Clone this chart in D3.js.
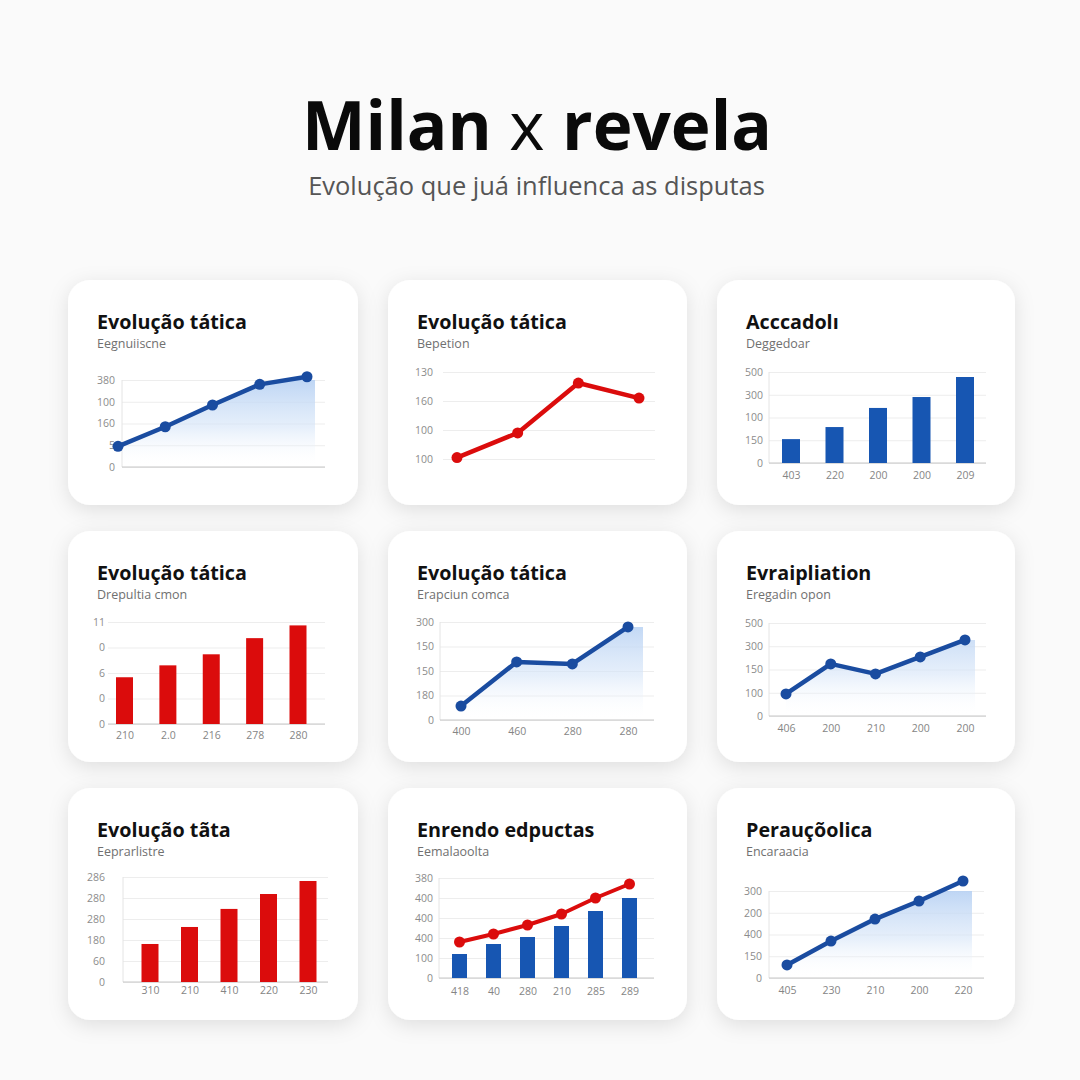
<!DOCTYPE html>
<html><head><meta charset="utf-8">
<script src="https://cdn.jsdelivr.net/npm/d3@7"></script>
<style>html,body{margin:0;padding:0;background:#fafafa;} svg{display:block;}</style>
</head><body><svg id="c" width="1080" height="1080"></svg>
<script>
// ---------- DATA ----------
const mainTitleParts = ["Milan ", "x", " revela"];
const mainSubtitle = "Evolução que juá influenca as disputas";
const cardTitles = ["Evolução tática","Evolução tática","Acccadolı","Evolução tática","Evolução tática","Evraipliation","Evolução tãta","Enrendo edpuctas","Perauçõolica"];
const cardSubtitles = ["Eegnuiiscne","Bepetion","Deggedoar","Drepultia cmon","Erapciun comca","Eregadin opon","Eeprarlistre","Eemalaoolta","Encaraacia"];
const chartKinds = ["area","line","bar","bar","area","area","bar","barline","area"];
const seriesColors = ["blue","red","blue","red","blue","blue","red","blue","blue"];

// y tick values and their printed labels (bottom to top)
const yTickValues = [
  [0,100,200,300,400],
  [0,100,200,300],
  [0,100,200,300,400],
  [0,3,6,9,12],
  [0,100,200,300,400],
  [0,100,200,300,400],
  [0,100,200,300,400,500],
  [0,100,200,300,400,500],
  [0,100,200,300,400]
];
const yTickLabels = [
  ["0","5","160","100","380"],
  ["100","100","160","130"],
  ["0","150","100","300","500"],
  ["0","0","6","0","11"],
  ["0","180","150","150","300"],
  ["0","100","150","300","500"],
  ["0","60","180","280","280","286"],
  ["0","100","400","400","400","380"],
  ["0","150","400","200","300"]
];
// x category labels (empty = not printed)
const xLabels = [
  ["","","","",""],
  ["","","",""],
  ["403","220","200","200","209"],
  ["210","2.0","216","278","280"],
  ["400","460","280","280"],
  ["406","200","210","200","200"],
  ["310","210","410","220","230"],
  ["418","40","280","210","285","289"],
  ["405","230","210","200","220"]
];
const card1Values = [95,185,285,380,415];
const card2Values = [5,90,262,210];
const card3Values = [105,158,242,290,378];
const card4Values = [5.5,6.9,8.2,10.1,11.6];
const card5Values = [57,237,229,380];
const card6Values = [95,224,181,254,327];
const card7Values = [181,262,348,419,481];
const card8Bars  = [120,170,205,260,335,400];
const card8Line  = [180,220,265,320,400,470];
const card9Values = [60,170,271,354,446];
const mainSeries = [card1Values,card2Values,card3Values,card4Values,card5Values,card6Values,card7Values,card8Bars,card9Values];
const secondSeries = [null,null,null,null,null,null,null,card8Line,null];

// ---------- LAYOUT / STYLE ----------
const COL = {blue:"#1a4ca0", blueBar:"#1756b2", red:"#db0c0c"};
const cardX = [68,388,717], cardW = [290,299,298];
const cardY = [280,531,788], cardH = [225,231,232];
const layout = [
  {x0:122,x1:325,yTop:380,yBot:467,p0:118,p1:307,lab:115,vAxis:true,base:true,areaR:315},
  {x0:443,x1:655,yTop:372,yBot:459,p0:457,p1:639,lab:433,vAxis:false,base:false},
  {x0:769,x1:986,yTop:372,yBot:463,p0:791,p1:965,lab:763,vAxis:true,base:true,barW:18,xLabY:479},
  {x0:108,x1:325,yTop:622,yBot:724,p0:124.5,p1:298,lab:105,vAxis:false,base:true,barW:17,xLabY:739},
  {x0:440,x1:654,yTop:622,yBot:720,p0:461,p1:628,lab:434,vAxis:true,base:true,areaR:643,xLabY:735},
  {x0:769,x1:986,yTop:623,yBot:716,p0:786,p1:965,lab:763,vAxis:true,base:true,areaR:975,xLabY:732},
  {x0:123,x1:328,yTop:877,yBot:982,p0:150,p1:308,lab:105,vAxis:true,base:true,barW:17,xLabY:994},
  {x0:439,x1:654,yTop:878,yBot:978,p0:459.5,p1:629.5,lab:433,vAxis:true,base:true,barW:15,xLabY:995},
  {x0:769,x1:984,yTop:891,yBot:978,p0:787,p1:963,lab:762,vAxis:true,base:true,areaR:972,xLabY:994}
];
const FONT = "'Open Sans','Noto Sans',sans-serif";

const svg = d3.select("#c");
svg.append("rect").attr("width",1080).attr("height",1080).attr("fill","#fafafa");
const defs = svg.append("defs");
const f = defs.append("filter").attr("id","sh").attr("x","-20%").attr("y","-20%").attr("width","140%").attr("height","150%");
f.append("feDropShadow").attr("dx",0).attr("dy",5).attr("stdDeviation",10).attr("flood-color","#000").attr("flood-opacity",0.11);

function fitWidth(sel, target){
  const w = sel.node().getComputedTextLength();
  const fs = parseFloat(sel.attr("font-size"));
  sel.attr("font-size", fs*target/w);
}

// main title
const t = svg.append("text").attr("x",537).attr("y",150).attr("text-anchor","middle")
  .attr("font-family",FONT).attr("font-size",80).attr("font-weight",700).attr("fill","#0a0a0a");
mainTitleParts.forEach((p,i)=>t.append("tspan").text(p).attr("font-weight", i===1?400:700));
fitWidth(t,470);
const st = svg.append("text").attr("x",536.5).attr("y",195).attr("text-anchor","middle")
  .attr("font-family",FONT).attr("font-size",26).attr("fill","#555").text(mainSubtitle);
fitWidth(st,457);

// measure card title size
let titleFS = 20;
{
  const tmp = svg.append("text").attr("font-family",FONT).attr("font-weight",700).attr("font-size",20).text(cardTitles[0]);
  titleFS = 20*150/tmp.node().getComputedTextLength();
  tmp.remove();
}

cardTitles.forEach((title, i) => {
  const r = Math.floor(i/3), c = i%3;
  const cx = cardX[c], cy = cardY[r];
  const L = layout[i];
  const g = svg.append("g");
  g.append("rect").attr("x",cx).attr("y",cy).attr("width",cardW[c]).attr("height",cardH[r])
    .attr("rx",22).attr("fill","#fff").attr("filter","url(#sh)");
  g.append("text").attr("x",cx+29).attr("y",cy+49).attr("font-family",FONT).attr("font-weight",700)
    .attr("font-size",titleFS).attr("fill","#111").text(title);
  g.append("text").attr("x",cx+29).attr("y",cy+68).attr("font-family",FONT)
    .attr("font-size",12.5).attr("fill","#707070").text(cardSubtitles[i]);

  const vals = yTickValues[i];
  const y = d3.scaleLinear().domain([0, vals[vals.length-1]]).range([L.yBot, L.yTop]);
  const n = mainSeries[i].length;
  const x = d3.scalePoint().domain(d3.range(n)).range([L.p0, L.p1]);

  // y axis with gridlines
  const ya = g.append("g").attr("transform",`translate(${L.x0},0)`)
    .call(d3.axisLeft(y).tickValues(vals).tickFormat((d,k)=>yTickLabels[i][k])
      .tickSize(-(L.x1-L.x0)).tickSizeOuter(0).tickPadding(L.x0-L.lab));
  ya.select(".domain").remove();
  ya.selectAll("line").attr("stroke","#ededed").attr("stroke-width",1);
  ya.selectAll("text").attr("font-family",FONT).attr("font-size",10.5).attr("fill","#8c8c8c");

  if (L.vAxis) g.append("line").attr("x1",L.x0).attr("x2",L.x0).attr("y1",L.yTop).attr("y2",L.yBot)
    .attr("stroke","#e4e4e4").attr("stroke-width",1);

  // area
  const color = seriesColors[i]==="red" ? COL.red : COL.blue;
  if (chartKinds[i]==="area"){
    const gid = "grad"+i, cid = "clip"+i;
    const gr = defs.append("linearGradient").attr("id",gid).attr("gradientUnits","userSpaceOnUse")
      .attr("x1",0).attr("x2",0).attr("y1",L.yTop).attr("y2",L.yBot);
    gr.append("stop").attr("offset","0%").attr("stop-color","#b7d1f3").attr("stop-opacity",0.9);
    gr.append("stop").attr("offset","55%").attr("stop-color","#d6e5f8").attr("stop-opacity",0.6);
    gr.append("stop").attr("offset","100%").attr("stop-color","#ffffff").attr("stop-opacity",0);
    defs.append("clipPath").attr("id",cid).append("rect")
      .attr("x",L.x0).attr("y",L.yTop).attr("width",L.x1-L.x0).attr("height",L.yBot-L.yTop);
    const pts = mainSeries[i].map((v,k)=>[x(k), y(v)]);
    const last = pts[pts.length-1];
    pts.push([L.areaR, last[1]]);
    g.append("path").datum(pts)
      .attr("d", d3.area().x(d=>d[0]).y0(L.yBot).y1(d=>d[1]))
      .attr("clip-path",`url(#${cid})`)
      .attr("fill",`url(#${gid})`);
  }

  if (L.base) g.append("line").attr("x1",L.x0).attr("x2",L.x1).attr("y1",y(0)).attr("y2",y(0))
    .attr("stroke","#c8c8c8").attr("stroke-width",1.2);

  // x labels
  if (L.xLabY){
    const xa = g.append("g").attr("transform",`translate(0,${L.yBot})`)
      .call(d3.axisBottom(x).tickSize(0).tickFormat(k=>xLabels[i][k]));
    xa.select(".domain").remove();
    xa.selectAll("text").attr("y",L.xLabY-L.yBot).attr("dy",0)
      .attr("font-family",FONT).attr("font-size",10.5).attr("fill","#858585");
  }

  // bars
  if (chartKinds[i]==="bar" || chartKinds[i]==="barline"){
    const bc = seriesColors[i]==="red" ? COL.red : COL.blueBar;
    g.selectAll(".bar").data(mainSeries[i]).join("rect")
      .attr("x",(d,k)=>x(k)-L.barW/2).attr("width",L.barW)
      .attr("y",d=>y(d)).attr("height",d=>y(0)-y(d)).attr("fill",bc);
  }

  // lines
  const lineSeries = chartKinds[i]==="barline" ? secondSeries[i] :
                     (chartKinds[i]==="area"||chartKinds[i]==="line") ? mainSeries[i] : null;
  if (lineSeries){
    const lc = chartKinds[i]==="barline" ? COL.red : color;
    const lw = chartKinds[i]==="barline" ? 4 : 4.5;
    g.append("path").datum(lineSeries)
      .attr("d", d3.line().x((d,k)=>x(k)).y(d=>y(d)))
      .attr("fill","none").attr("stroke",lc).attr("stroke-width",lw).attr("stroke-linejoin","round");
    g.selectAll(".pt").data(lineSeries).join("circle")
      .attr("cx",(d,k)=>x(k)).attr("cy",d=>y(d)).attr("r",5.5).attr("fill",lc);
  }
});
</script></body></html>
